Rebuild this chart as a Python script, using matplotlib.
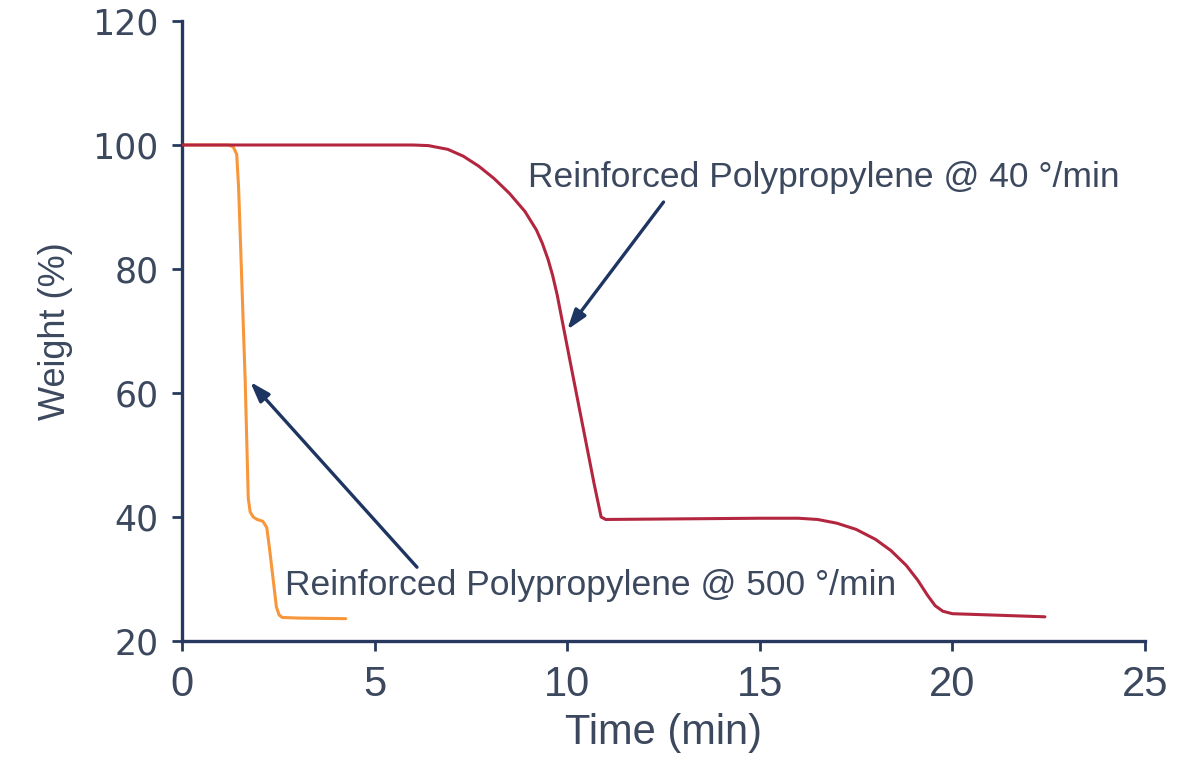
import matplotlib
matplotlib.use("Agg")
import matplotlib.pyplot as plt

# TGA curves: time (min) vs remaining weight (%)
time_40 = [0.0, 6.0, 6.4, 6.9, 7.3, 7.7, 8.1, 8.5, 8.9, 9.2, 9.35, 9.5, 9.62, 9.74,
           10.1, 10.4, 10.7, 10.88, 11.0, 13.0, 15.0, 16.0, 16.5, 17.0, 17.5, 18.0,
           18.4, 18.8, 19.1, 19.35, 19.55, 19.75, 20.0, 20.5, 22.4]
weight_40 = [100.0, 100.0, 99.9, 99.3, 98.2, 96.6, 94.6, 92.2, 89.3, 86.3, 84.2, 81.6,
             79.0, 75.8, 64.3, 54.8, 45.3, 40.0, 39.6, 39.7, 39.8, 39.8, 39.6, 39.0,
             38.0, 36.4, 34.6, 32.2, 29.8, 27.4, 25.7, 24.8, 24.4, 24.3, 23.9]

time_500 = [0.0, 1.2, 1.33, 1.42, 1.47, 1.64, 1.72, 1.77, 1.85, 1.95, 2.1, 2.2, 2.27,
            2.45, 2.52, 2.6, 3.0, 4.25]
weight_500 = [100.0, 100.0, 99.7, 98.5, 93.0, 62.0, 43.0, 40.8, 40.0, 39.6, 39.3, 38.3,
              35.0, 25.5, 24.2, 23.8, 23.7, 23.6]

label_40 = "Reinforced Polypropylene @ 40 °/min"
label_500 = "Reinforced Polypropylene @ 500 °/min"

x_ticks = [0, 5, 10, 15, 20, 25]
y_ticks = [20, 40, 60, 80, 100, 120]

navy = "#27395e"
text_col = "#3b485e"
red = "#b3263f"
orange = "#f7963a"
arrow_col = "#1e3461"

sans = ["Liberation Sans", "DejaVu Sans"]
narrow = ["Liberation Sans Narrow", "Liberation Sans", "DejaVu Sans"]

fig = plt.figure(figsize=(11.99, 7.61), dpi=100)
ax = fig.add_axes([0.1518, 0.1577, 0.8032, 0.8147])

ax.plot(time_500, weight_500, color=orange, lw=2.2, solid_joinstyle="round",
        solid_capstyle="round", zorder=2)
ax.plot(time_40, weight_40, color=red, lw=2.2, solid_joinstyle="round",
        solid_capstyle="round", zorder=3)

ax.set_xlim(0, 25)
ax.set_ylim(20, 120)
ax.set_xticks(x_ticks)
ax.set_yticks(y_ticks)

for side in ("top", "right"):
    ax.spines[side].set_visible(False)
for side in ("left", "bottom"):
    ax.spines[side].set_color(navy)
    ax.spines[side].set_linewidth(2.4)

ax.tick_params(axis="both", colors=navy, width=2.0, length=7, direction="out")
ax.tick_params(axis="y", pad=10)
ax.tick_params(axis="x", pad=10)

for lbl in ax.get_yticklabels():
    lbl.set_family("DejaVu Sans")
    lbl.set_fontsize(25)
    lbl.set_color(text_col)
for lbl in ax.get_xticklabels():
    lbl.set_family(sans)
    lbl.set_fontsize(30)
    lbl.set_color(text_col)

ax.set_xlabel("Time (min)", fontsize=30, family=sans, color=text_col, labelpad=6)
ax.set_ylabel("Weight (%)", fontsize=26, family=narrow, color=text_col, labelpad=14)

# annotations
ax.text(8.99, 94.7, label_40, fontsize=25.5, family=sans, color=text_col,
        ha="left", va="center")
ax.text(2.68, 28.9, label_500, fontsize=25.5, family=sans, color=text_col,
        ha="left", va="center")

arrow_kw = dict(arrowstyle="-|>,head_length=1.2,head_width=0.4",
                color=arrow_col, lw=2.4, shrinkA=0, shrinkB=0)
ax.annotate("", xy=(10.0, 70.2), xytext=(12.5, 90.8), arrowprops=arrow_kw)
ax.annotate("", xy=(1.77, 61.8), xytext=(6.1, 31.9), arrowprops=arrow_kw)

fig.savefig("out.png", dpi=100, facecolor="white")
